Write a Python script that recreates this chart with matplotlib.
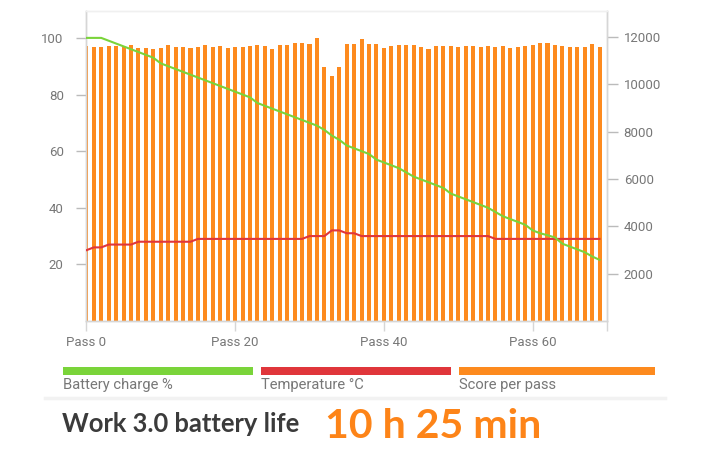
import matplotlib
matplotlib.use("Agg")
import matplotlib.pyplot as plt
from matplotlib.patches import Rectangle
from matplotlib.lines import Line2D

passes = list(range(70))
battery = [100, 100, 100, 99, 98, 97, 96, 95, 94, 93,
           91, 90, 89, 88, 87, 86, 85, 84, 83, 82,
           81, 80, 79, 77, 76, 75, 74, 73, 72, 71,
           70, 69, 67.5, 65.5, 64, 62, 61, 60, 59, 57,
           56, 55, 54, 52.5, 51, 50, 49, 48, 47, 45,
           44, 43, 42, 41, 40, 38.5, 37, 36, 35, 34,
           32, 31, 30.3, 29.5, 27.3, 26.3, 25.3, 24.3, 22.8, 21.6]
temperature = [25, 26, 26, 27, 27, 27, 27, 28, 28, 28,
               28, 28, 28, 28, 28, 29, 29, 29, 29, 29,
               29, 29, 29, 29, 29, 29, 29, 29, 29, 29,
               30, 30, 30, 32, 32, 31, 31, 30, 30, 30,
               30, 30, 30, 30, 30, 30, 30, 30, 30, 30,
               30, 30, 30, 30, 30, 29, 29, 29, 29, 29,
               29, 29, 29, 29, 29, 29, 29, 29, 29, 29]
score = [11610, 11580, 11590, 11610, 11640, 11580, 11680, 11550, 11540, 11510,
         11520, 11650, 11580, 11580, 11520, 11570, 11680, 11590, 11620, 11540,
         11590, 11590, 11620, 11660, 11640, 11510, 11680, 11650, 11730, 11750,
         11690, 11960, 10740, 10370, 10750, 11700, 11700, 11900, 11720, 11690,
         11540, 11610, 11680, 11660, 11680, 11580, 11490, 11610, 11610, 11640,
         11570, 11640, 11640, 11590, 11640, 11570, 11610, 11520, 11590, 11640,
         11680, 11750, 11750, 11680, 11620, 11590, 11590, 11580, 11690, 11580]

x_ticks = [0, 20, 40, 60]
x_labels = ["Pass 0", "Pass 20", "Pass 40", "Pass 60"]
left_ticks = [20, 40, 60, 80, 100]
right_ticks = [2000, 4000, 6000, 8000, 10000, 12000]
legend_labels = ["Battery charge %", "Temperature \u00b0C", "Score per pass"]
title_text = "Work 3.0 battery life"
result_text = "10 h 25 min"

GREEN = "#7ad43a"
RED = "#e0363b"
ORANGE = "#fd8a1e"
TICKC = "#777777"
AXC = "#d6d6d6"

W, H = 708, 450
fig = plt.figure(figsize=(W / 100, H / 100), dpi=100)
fig.patch.set_facecolor("white")

ax = fig.add_axes([86 / W, 1 - 321 / H, (607 - 86) / W, 310 / H])
ax2 = ax.twinx()
ax.set_zorder(ax2.get_zorder() + 1)
ax.patch.set_visible(False)

ax2.bar(passes, score, width=0.55, color=ORANGE, zorder=2)
ax.plot(passes, temperature, color=RED, lw=1.5, zorder=3)
ax.plot(passes, battery, color=GREEN, lw=1.5, zorder=4)

ax.set_xlim(-0.05, 70)
ax.set_ylim(0, 109.5)
ax2.set_ylim(0, 13100)

for a in (ax, ax2):
    for s in a.spines.values():
        s.set_color(AXC)
        s.set_linewidth(1)
    a.spines["top"].set_color("#f0f0f0")

ax.set_xticks(x_ticks)
ax.set_xticklabels(x_labels)
ax.set_xticks([70], minor=True)
ax.set_yticks(left_ticks)
ax.set_yticklabels([str(v) for v in left_ticks])
ax2.set_yticks(right_ticks)
ax2.set_yticklabels([str(v) for v in right_ticks])

ax.tick_params(axis="x", which="both", length=7, width=1, color=AXC,
               labelcolor=TICKC, pad=4, labelsize=9.5)
ax.tick_params(axis="y", length=7, width=1, color="#bbbbbb",
               labelcolor=TICKC, pad=9, labelsize=9.5)
ax2.tick_params(axis="y", length=8, width=1, color="#bbbbbb",
                labelcolor=TICKC, pad=4, labelsize=9.5)
for lab in ax.get_xticklabels() + ax.get_yticklabels() + ax2.get_yticklabels():
    lab.set_fontfamily(["Roboto", "DejaVu Sans"])

# legend
leg_x = [62.7, 260.7, 459.3]
leg_w = [190, 190, 196]
colors = [GREEN, RED, ORANGE]
for xx, ww, c, lab in zip(leg_x, leg_w, colors, legend_labels):
    fig.add_artist(Rectangle((xx / W, 1 - 375 / H), ww / W, 7.7 / H,
                             transform=fig.transFigure, color=c, lw=0))
    fig.text(xx / W, 1 - 389.5 / H, lab, fontsize=10.6, color=TICKC,
             family=["Roboto", "DejaVu Sans"], ha="left", va="baseline")

# faint separator band
fig.add_artist(Line2D([45 / W, 665 / W], [1 - 397.5 / H] * 2,
                      transform=fig.transFigure, color="#f2f2f2", lw=2.5))

fig.text(62 / W, 1 - 432.3 / H, title_text, fontsize=18.4, fontweight="bold",
         color="#3b3b3b", family=["Lato", "DejaVu Sans"], ha="left", va="baseline")
fig.text(325 / W, 1 - 438.3 / H, result_text, fontsize=29.5, fontweight="bold",
         color="#fd8418", family=["Lato", "DejaVu Sans"], ha="left", va="baseline")

fig.savefig("out.png", dpi=100, facecolor="white")
